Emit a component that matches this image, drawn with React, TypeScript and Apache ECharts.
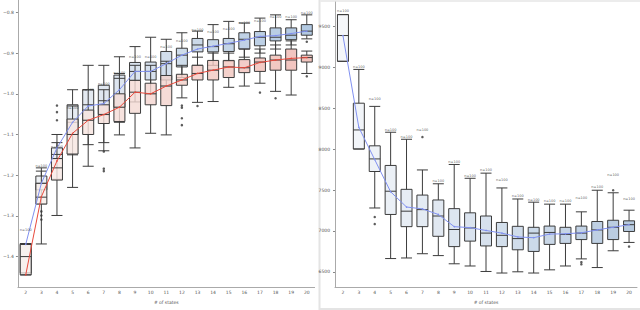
import React, { useEffect, useRef } from "react";
import * as echarts from "echarts";

const states = ["2","3","4","5","6","7","8","9","10","11","12","13","14","15","16","17","18","19","20"];

// Left panel: [min, Q1, median, Q3, max]
const leftBlueBoxes = [
  [-1.44, -1.44, -1.37, -1.368, -1.368],
  [-1.27, -1.236, -1.22, -1.202, -1.182],
  [-1.21, -1.16, -1.149, -1.133, -1.10],
  [-1.15, -1.10, -1.07, -1.027, -0.99],
  [-1.125, -1.065, -1.027, -0.99, -0.93],
  [-1.12, -1.05, -1.017, -0.979, -0.93],
  [-1.07, -1.033, -0.962, -0.954, -0.909],
  [-1.02, -0.967, -0.945, -0.923, -0.884],
  [-1.0, -0.966, -0.945, -0.922, -0.861],
  [-0.98, -0.966, -0.926, -0.896, -0.866],
  [-0.96, -0.934, -0.905, -0.888, -0.85],
  [-0.93, -0.897, -0.88, -0.864, -0.846],
  [-0.93, -0.897, -0.884, -0.867, -0.83],
  [-0.92, -0.896, -0.877, -0.864, -0.822],
  [-0.91, -0.89, -0.866, -0.85, -0.826],
  [-0.9, -0.882, -0.861, -0.847, -0.814],
  [-0.89, -0.87, -0.861, -0.838, -0.806],
  [-0.88, -0.867, -0.856, -0.838, -0.818],
  [-0.865, -0.856, -0.846, -0.83, -0.806],
];
const leftRedBoxes = [
  [-1.445, -1.445, -1.40, -1.37, -1.37],
  [-1.369, -1.271, -1.254, -1.22, -1.19],
  [-1.299, -1.212, -1.182, -1.159, -1.12],
  [-1.23, -1.148, -1.10, -1.062, -1.03],
  [-1.178, -1.10, -1.065, -1.04, -0.99],
  [-1.14, -1.073, -1.051, -1.027, -0.99],
  [-1.101, -1.068, -1.033, -1.0, -0.95],
  [-1.133, -1.048, -0.996, -0.967, -0.93],
  [-1.097, -1.027, -1.0, -0.974, -0.93],
  [-1.101, -1.029, -0.981, -0.955, -0.92],
  [-1.01, -0.979, -0.966, -0.952, -0.93],
  [-1.021, -0.966, -0.95, -0.93, -0.91],
  [-1.019, -0.966, -0.942, -0.918, -0.9],
  [-0.984, -0.96, -0.934, -0.918, -0.9],
  [-0.981, -0.948, -0.936, -0.916, -0.89],
  [-0.974, -0.945, -0.922, -0.912, -0.89],
  [-0.994, -0.942, -0.917, -0.905, -0.88],
  [-1.003, -0.942, -0.917, -0.89, -0.87],
  [-0.95, -0.922, -0.911, -0.905, -0.895],
];
const leftBlueMean = [-1.37, -1.22, -1.133, -1.07, -1.03, -1.024, -0.99, -0.945, -0.945, -0.926, -0.905, -0.89, -0.883, -0.876, -0.868, -0.859, -0.857, -0.852, -0.846];
const leftRedMean = [-1.445, -1.253, -1.165, -1.097, -1.065, -1.051, -1.033, -0.996, -1.0, -0.981, -0.966, -0.95, -0.942, -0.934, -0.936, -0.923, -0.917, -0.913, -0.911];
const leftOutliers: [string, number][] = [
  ["3", -1.289], ["3", -1.299], ["3", -1.309],
  ["4", -1.029], ["4", -1.045], ["4", -1.065],
  ["7", -1.142], ["7", -1.184], ["7", -1.19],
  ["12", -1.029], ["12", -1.034], ["12", -1.06], ["12", -1.077],
  ["13", -1.03], ["17", -0.997], ["18", -1.011], ["20", -0.957], ["20", -0.872],
];
const leftLabelY = [-1.34, -1.183, -1.135, -1.04, -0.996, -0.982, -0.955, -0.914, -0.914, -0.89, -0.874, -0.847, -0.852, -0.846, -0.83, -0.827, -0.817, -0.817, -0.806];

// Right panel
const rightBoxes = [
  [9074, 9074, 9389, 9645, 9645],
  [8002, 8002, 8235, 8562, 8975],
  [7281, 7727, 7881, 8041, 8523],
  [6663, 7202, 7486, 7801, 8207],
  [6670, 7053, 7242, 7509, 8121],
  [6722, 7053, 7261, 7439, 7746],
  [6699, 6935, 7183, 7379, 7577],
  [6599, 6809, 7018, 7273, 7813],
  [6572, 6876, 7037, 7222, 7644],
  [6505, 6817, 6974, 7183, 7707],
  [6486, 6809, 6947, 7104, 7526],
  [6501, 6770, 6907, 7057, 7391],
  [6486, 6750, 6974, 7045, 7352],
  [6525, 6836, 6982, 7060, 7328],
  [6572, 6848, 6958, 7045, 7328],
  [6659, 6895, 6974, 7060, 7234],
  [6553, 6848, 7013, 7116, 7498],
  [6758, 6895, 7045, 7131, 7467],
  [6860, 6994, 7077, 7124, 7254],
];
const rightMean = [9389, 8266, 7872, 7479, 7293, 7270, 7202, 7053, 7041, 7006, 6974, 6927, 6918, 6962, 6966, 6978, 7013, 7045, 7077];
const rightOutliers: [string, number][] = [
  ["4", 7171], ["4", 7084], ["7", 8148], ["17", 6619], ["17", 6592], ["19", 7498], ["20", 6809],
];
const rightLabelY = [9665, 8975, 8590, 8207, 8121, 8207, 7585, 7813, 7644, 7722, 7597, 7400, 7352, 7340, 7340, 7380, 7510, 7656, 7368];

const leftTicks = [-1.4, -1.3, -1.2, -1.1, -1.0, -0.9, -0.8];
const rightTicks = [6500, 7000, 7500, 8000, 8500, 9000, 9500];

function mix(a: number[], b: number[], t: number, alpha = 1) {
  const c = a.map((v, i) => Math.round(v + (b[i] - v) * t));
  return `rgba(${c[0]},${c[1]},${c[2]},${alpha})`;
}

export default function App() {
  const ref = useRef<HTMLDivElement>(null);
  useEffect(() => {
    if (!ref.current) return;
    const chart = echarts.init(ref.current, null, { renderer: "svg" });
    const n = states.length;
    const font = "DejaVu Sans";
    const axisLabel = { fontSize: 4.5, color: "#555", fontFamily: font };
    const xAxisBase = (gridIndex: number, show: boolean) => ({
      gridIndex,
      type: "category",
      data: states,
      show,
      boundaryGap: true,
      axisLine: { lineStyle: { color: "#aaaaaa", width: 1 } },
      axisTick: { alignWithLabel: true, length: 2, lineStyle: { color: "#888" } },
      axisLabel: { ...axisLabel, margin: 3 },
      name: "# of states",
      nameLocation: "middle",
      nameGap: 9,
      nameTextStyle: { fontSize: 4.5, color: "#555", fontFamily: font },
      splitLine: { show: false },
    });
    const boxStyle = { borderColor: "#3c3c3c", borderWidth: 1 };
    const labelSeries = (xi: number, yi: number, ys: number[]) => ({
      type: "scatter", xAxisIndex: xi, yAxisIndex: yi, symbolSize: 0, z: 6,
      itemStyle: { color: "#333333" },
      data: ys.map((y, i) => [states[i], y]),
      label: { show: true, position: "top", distance: 0, formatter: "n=100", fontSize: 3.5, color: "#333333", fontFamily: font },
    });
    const option: any = {
      animation: false,
      backgroundColor: "#ffffff",
      grid: [
        { left: 13, top: 0, width: 301.6, height: 294 },
        { left: 335, top: 2, width: 302, height: 294.7 },
      ],
      xAxis: [xAxisBase(0, true), xAxisBase(0, false), xAxisBase(1, true), xAxisBase(1, false)],
      yAxis: [
        {
          gridIndex: 0, type: "value", min: -1.475, max: -0.7695,
          splitLine: { show: false },
          axisLine: { show: true, lineStyle: { color: "#aaaaaa" } },
          axisTick: { show: true, length: 2, customValues: leftTicks, lineStyle: { color: "#888" } },
          axisLabel: {
            ...axisLabel, margin: 4, customValues: leftTicks,
            formatter: (v: number) => (v < 0 ? "\u2212" : "") + Math.abs(v).toFixed(1),
          },
        },
        {
          gridIndex: 1, type: "value", min: 6314, max: 9799,
          splitLine: { show: false },
          axisLine: { show: true, lineStyle: { color: "#aaaaaa" } },
          axisTick: { show: true, length: 2, customValues: rightTicks, lineStyle: { color: "#888" } },
          axisLabel: { ...axisLabel, margin: 5, customValues: rightTicks, formatter: (v: number) => String(Math.round(v)) },
        },
      ],
      graphic: [
        { type: "line", shape: { x1: 319.5, y1: 0, x2: 319.5, y2: 310 }, style: { stroke: "#e4e4e4", lineWidth: 2 } },
        { type: "line", shape: { x1: 320, y1: 1, x2: 640, y2: 1 }, style: { stroke: "#ececec", lineWidth: 2 } },
        { type: "line", shape: { x1: 320, y1: 309, x2: 640, y2: 309 }, style: { stroke: "#e4e4e4", lineWidth: 2 } },
      ],
      series: [
        {
          type: "boxplot", xAxisIndex: 0, yAxisIndex: 0, boxWidth: [11, 11],
          itemStyle: boxStyle,
          data: leftBlueBoxes.map((v, i) => ({ value: v, itemStyle: { color: mix([242, 243, 245], [178, 201, 226], i / (n - 1)) } })),
          z: 2,
        },
        {
          type: "boxplot", xAxisIndex: 1, yAxisIndex: 0, boxWidth: [11, 11],
          itemStyle: boxStyle,
          data: leftRedBoxes.map((v, i) => ({ value: v, itemStyle: { color: mix([248, 240, 236], [238, 180, 172], i / (n - 1), 0.8) } })),
          z: 3,
        },
        {
          type: "line", xAxisIndex: 0, yAxisIndex: 0, data: leftBlueMean, z: 5,
          symbol: "circle", symbolSize: 1.5, lineStyle: { color: "#8090f0", width: 1 }, itemStyle: { color: "#8090f0" },
        },
        {
          type: "line", xAxisIndex: 0, yAxisIndex: 0, data: leftRedMean, z: 5,
          symbol: "circle", symbolSize: 1.5, lineStyle: { color: "#e8493c", width: 1 }, itemStyle: { color: "#e8493c" },
        },
        {
          type: "scatter", xAxisIndex: 0, yAxisIndex: 0, data: leftOutliers, symbolSize: 2.5,
          itemStyle: { color: "#333" }, z: 4,
        },
        labelSeries(0, 0, leftLabelY),
        {
          type: "boxplot", xAxisIndex: 2, yAxisIndex: 1, boxWidth: [11, 11],
          itemStyle: boxStyle,
          data: rightBoxes.map((v, i) => ({ value: v, itemStyle: { color: mix([245, 247, 250], [184, 203, 224], i / (n - 1)) } })),
          z: 2,
        },
        {
          type: "line", xAxisIndex: 2, yAxisIndex: 1, data: rightMean, z: 5,
          symbol: "circle", symbolSize: 1.5, lineStyle: { color: "#8090f0", width: 1 }, itemStyle: { color: "#8090f0" },
        },
        {
          type: "scatter", xAxisIndex: 2, yAxisIndex: 1, data: rightOutliers, symbolSize: 2.5,
          itemStyle: { color: "#333" }, z: 4,
        },
        labelSeries(2, 1, rightLabelY),
      ],
    };
    chart.setOption(option);
    return () => chart.dispose();
  }, []);
  return (
    <div
      ref={ref}
      style={{ position: "fixed", left: 0, top: 0, width: 640, height: 310, background: "#fff" }}
    />
  );
}
